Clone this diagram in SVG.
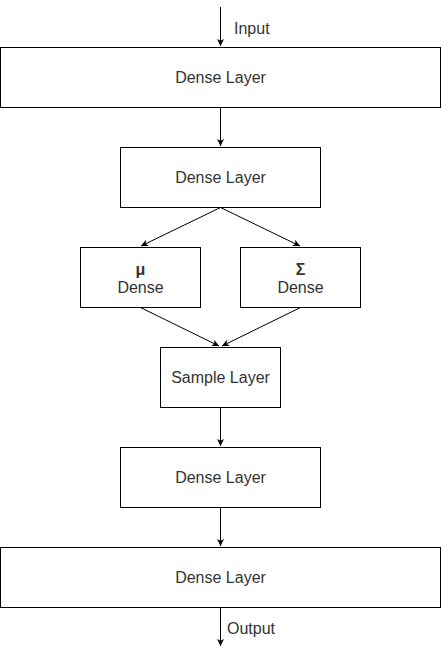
<svg xmlns="http://www.w3.org/2000/svg" width="441" height="656" viewBox="0 0 441 656">
<style>
.box{fill:#fff;stroke:#000;stroke-width:1}
.t{font-family:"Liberation Sans",Arial,sans-serif;font-size:16px;fill:#333;text-anchor:middle}
.b{font-weight:bold}
.lbl{font-family:"Liberation Sans",Arial,sans-serif;font-size:16px;fill:#333}
.e{stroke:#000;stroke-width:1;fill:none;marker-end:url(#ah)}
</style>
<defs>
<marker id="ah" markerWidth="8" markerHeight="8" refX="7" refY="4" orient="auto" markerUnits="userSpaceOnUse">
<path d="M0,0.5 L7,4 L0,7.5 L1.8,4 Z" fill="#000"/>
</marker>
</defs>
<rect width="441" height="656" fill="#fff"/>
<g id="edges">
<path class="e" d="M220.5,7 L220.5,46"/>
<path class="e" d="M220.5,107 L220.5,146"/>
<path class="e" d="M220.5,207.5 L141,246"/>
<path class="e" d="M220.5,207.5 L300,246"/>
<path class="e" d="M140.5,307.5 L219,346"/>
<path class="e" d="M300.5,307.5 L222,346"/>
<path class="e" d="M220.5,407 L220.5,446"/>
<path class="e" d="M220.5,507 L220.5,546"/>
<path class="e" d="M220.5,607 L220.5,646"/>
<text class="lbl" x="234" y="34">Input</text>
<text class="lbl" x="227" y="634">Output</text>
</g>
<g id="dense1"><rect class="box" x="0.5" y="47.5" width="440" height="60"/><text class="t" x="220.5" y="83">Dense Layer</text></g>
<g id="dense2"><rect class="box" x="120.5" y="147.5" width="200" height="60"/><text class="t" x="220.5" y="183">Dense Layer</text></g>
<g id="mu"><rect class="box" x="80.5" y="247.5" width="120" height="60"/><text class="t b" x="140.5" y="275">μ</text><text class="t" x="140.5" y="293">Dense</text></g>
<g id="sigma"><rect class="box" x="240.5" y="247.5" width="120" height="60"/><text class="t b" x="300.5" y="275">Σ</text><text class="t" x="300.5" y="293">Dense</text></g>
<g id="sample"><rect class="box" x="160.5" y="347.5" width="120" height="60"/><text class="t" x="220.5" y="383">Sample Layer</text></g>
<g id="dense3"><rect class="box" x="120.5" y="447.5" width="200" height="60"/><text class="t" x="220.5" y="483">Dense Layer</text></g>
<g id="dense4"><rect class="box" x="0.5" y="547.5" width="440" height="60"/><text class="t" x="220.5" y="583">Dense Layer</text></g>
</svg>
